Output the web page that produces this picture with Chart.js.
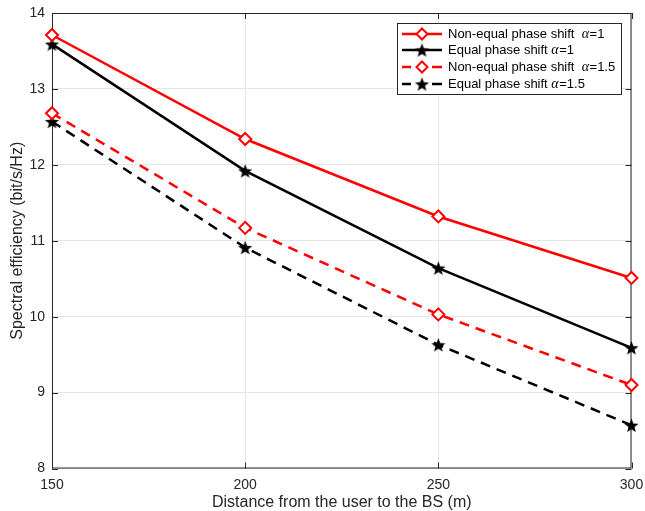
<!DOCTYPE html>
<html>
<head>
<meta charset="utf-8">
<script src="https://cdn.jsdelivr.net/npm/chart.js@4/dist/chart.umd.min.js"></script>
<style>
  html, body { margin: 0; padding: 0; background: #fff; }
  #wrap { width: 645px; height: 511px; }
</style>
</head>
<body>
<div id="wrap"><canvas id="myChart"></canvas></div>
<script>
// distances (m)
var distances = [150, 200, 250, 300];
// spectral efficiency values
var nonEqualA1 = [13.71, 12.34, 11.32, 10.51];
var equalA1 = [13.59, 11.92, 10.64, 9.59];
var nonEqualA15 = [12.68, 11.17, 10.03, 9.10];
var equalA15 = [12.57, 10.91, 9.63, 8.57];
var seriesNames = ['Non-equal phase shift', 'Equal phase shift', 'Non-equal phase shift', 'Equal phase shift'];
var alphaLabels = ['1', '1', '1.5', '1.5'];
var yTicks = [8, 9, 10, 11, 12, 13, 14];

var FONT = '"Liberation Sans", Arial, sans-serif';

// filled star marker
function makeStar(r, color) {
  var c = document.createElement('canvas');
  var s = Math.ceil(r * 2 + 2);
  c.width = s; c.height = s;
  var ctx = c.getContext('2d');
  ctx.fillStyle = color;
  ctx.beginPath();
  for (var i = 0; i < 10; i++) {
    var rad = (i % 2 === 0) ? r : r * 0.42;
    var a = -Math.PI / 2 + i * Math.PI / 5;
    var x = s / 2 + rad * Math.cos(a), y = s / 2 + rad * Math.sin(a) + 0.8;
    if (i === 0) ctx.moveTo(x, y); else ctx.lineTo(x, y);
  }
  ctx.closePath();
  ctx.fill();
  return c;
}
var star = makeStar(7.5, '#000');

function toXY(arr) {
  var out = [];
  for (var i = 0; i < distances.length; i++) out.push({x: distances[i], y: arr[i]});
  return out;
}

var datasets = [
  {label: seriesNames[0], data: toXY(nonEqualA1), borderColor: '#ff0000', borderWidth: 2.5,
   pointStyle: 'rectRot', pointRadius: 6, pointBorderWidth: 2, pointBackgroundColor: '#fff', pointBorderColor: '#ff0000'},
  {label: seriesNames[1], data: toXY(equalA1), borderColor: '#000', borderWidth: 2.5,
   pointStyle: star, pointRadius: 8},
  {label: seriesNames[2], data: toXY(nonEqualA15), borderColor: '#ff0000', borderWidth: 2.5, borderDash: [10, 7],
   pointStyle: 'rectRot', pointRadius: 6, pointBorderWidth: 2, pointBackgroundColor: '#fff', pointBorderColor: '#ff0000'},
  {label: seriesNames[3], data: toXY(equalA15), borderColor: '#000', borderWidth: 2.5, borderDash: [10, 7],
   pointStyle: star, pointRadius: 8}
];
datasets.forEach(function (d) { d.fill = false; d.tension = 0; d.clip = false; d.backgroundColor = d.borderColor; });

// box, inward ticks and MATLAB-like legend
var matlabBox = {
  id: 'matlabBox',
  beforeDatasetsDraw: function (chart) {
    var ctx = chart.ctx, a = chart.chartArea;
    var xs = chart.scales.x, ys = chart.scales.y;
    ctx.save();
    ctx.strokeStyle = '#262626';
    ctx.lineWidth = 1;
    ctx.strokeRect(a.left + 0.5, a.top + 0.5, a.right - a.left - 1, a.bottom - a.top - 1);
    ctx.beginPath();
    distances.forEach(function (v) {
      var px = Math.round(xs.getPixelForValue(v)) + 0.5;
      ctx.moveTo(px, a.bottom); ctx.lineTo(px, a.bottom - 6);
      ctx.moveTo(px, a.top); ctx.lineTo(px, a.top + 6);
    });
    yTicks.forEach(function (v) {
      var py = Math.round(ys.getPixelForValue(v)) + 0.5;
      ctx.moveTo(a.left, py); ctx.lineTo(a.left + 6, py);
      ctx.moveTo(a.right, py); ctx.lineTo(a.right - 6, py);
    });
    ctx.stroke();
    ctx.restore();
  },
  afterDatasetsDraw: function (chart) {
    var ctx = chart.ctx;
    ctx.save();
    // legend
    var bx = 397.5, by = 23.5, bw = 224, bh = 71;
    ctx.fillStyle = '#fff';
    ctx.fillRect(bx, by, bw, bh);
    ctx.strokeStyle = '#262626';
    ctx.lineWidth = 1;
    ctx.strokeRect(bx, by, bw, bh);
    var rows = [34, 50, 67, 84];
    chart.data.datasets.forEach(function (d, i) {
      var y = rows[i];
      ctx.strokeStyle = d.borderColor;
      ctx.lineWidth = 2.5;
      ctx.beginPath();
      if (d.borderDash) {
        ctx.moveTo(402, y); ctx.lineTo(411, y);
        ctx.moveTo(432, y); ctx.lineTo(442, y);
      } else {
        ctx.moveTo(402, y); ctx.lineTo(442, y);
      }
      ctx.stroke();
      if (d.pointStyle === 'rectRot') {
        ctx.lineWidth = 2;
        ctx.fillStyle = '#fff';
        ctx.beginPath();
        ctx.moveTo(422, y - 5.5); ctx.lineTo(427.5, y); ctx.lineTo(422, y + 5.5); ctx.lineTo(416.5, y);
        ctx.closePath();
        ctx.fill(); ctx.stroke();
      } else {
        ctx.drawImage(d.pointStyle, 422 - d.pointStyle.width / 2, y - d.pointStyle.height / 2);
      }
      ctx.fillStyle = '#000';
      ctx.textBaseline = 'middle';
      ctx.font = '13px ' + FONT;
      var label = d.label + (i % 2 === 0 ? '  ' : ' ');
      ctx.fillText(label, 448, y);
      var w = ctx.measureText(label).width;
      ctx.font = 'italic 14px "Liberation Serif", "DejaVu Serif", serif';
      ctx.fillText('\u03b1', 448 + w, y);
      var w2 = ctx.measureText('\u03b1').width;
      ctx.font = '13px ' + FONT;
      ctx.fillText('=' + alphaLabels[i], 448 + w + w2 + 0.5, y);
    });
    ctx.restore();
  }
};

new Chart(document.getElementById('myChart').getContext('2d'), {
  type: 'line',
  data: {datasets: datasets},
  options: {
    responsive: true,
    maintainAspectRatio: false,
    animation: false,
    layout: {autoPadding: false, padding: {left: 0, right: 13.5, top: 13, bottom: 0}},
    plugins: {legend: {display: false}, tooltip: {enabled: false}},
    scales: {
      x: {
        type: 'linear', min: 150, max: 300,
        afterFit: function (s) { s.height = 42.5; s.paddingLeft = 0; s.paddingRight = 0; },
        afterBuildTicks: function (s) { s.ticks = distances.map(function (v) { return {value: v}; }); },
        ticks: {color: '#262626', font: {family: FONT, size: 14}, padding: 8, maxRotation: 0},
        grid: {color: '#e6e6e6', drawTicks: false, lineWidth: 1},
        border: {display: false},
        title: {display: true, text: 'Distance from the user to the BS (m)', color: '#262626',
                font: {family: FONT, size: 16, lineHeight: 1}, padding: {top: 0, bottom: 0}}
      },
      y: {
        min: 8, max: 14,
        afterFit: function (s) { s.width = 52; s.paddingTop = 0; s.paddingBottom = 0; },
        afterBuildTicks: function (s) { s.ticks = yTicks.map(function (v) { return {value: v}; }); },
        ticks: {color: '#262626', font: {family: FONT, size: 14}, padding: 7},
        grid: {color: '#e6e6e6', drawTicks: false, lineWidth: 1},
        border: {display: false},
        title: {display: true, text: 'Spectral efficiency (bit/s/Hz)', color: '#262626',
                font: {family: FONT, size: 16, lineHeight: 1}, padding: {top: 10, bottom: 0}}
      }
    }
  },
  plugins: [matlabBox]
});
</script>
</body>
</html>
